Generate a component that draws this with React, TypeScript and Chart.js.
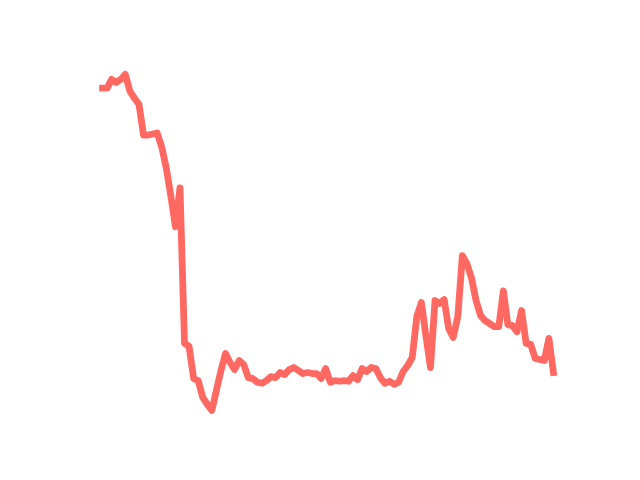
import React, { useEffect, useRef } from "react";
import { Chart, registerables } from "chart.js";

Chart.register(...registerables);

const seriesValues: number[] = [
  96.3, 96.3, 98.9, 98.0, 98.9, 100.4, 95.4, 93.3, 91.5, 82.3,
  82.3, 82.6, 82.9, 78.7, 72.4, 64.1, 54.9, 66.5, 20.1, 19.2,
  9.6, 9.0, 4.0, 1.9, 0.1, 6.1, 12.0, 17.1, 14.4, 12.3,
  15.0, 13.8, 9.9, 9.6, 8.5, 8.2, 9.0, 10.2, 9.9, 11.4,
  10.8, 12.3, 12.9, 12.0, 11.1, 11.4, 11.1, 11.1, 9.6, 12.6,
  8.5, 9.0, 8.8, 9.0, 8.8, 10.5, 9.3, 12.6, 11.7, 12.9,
  12.6, 9.9, 8.2, 8.8, 7.9, 8.5, 11.7, 13.5, 15.9, 28.1,
  32.3, 22.4, 12.9, 32.9, 32.0, 33.2, 24.5, 21.9, 28.1, 46.3,
  43.9, 39.7, 32.9, 28.4, 26.9, 26.0, 25.1, 25.1, 35.8, 25.7,
  25.4, 23.6, 29.9, 20.1, 19.8, 15.6, 15.3, 15.0, 21.6, 11.4,
];

const categories: number[] = seriesValues.map((_, i) => i);

export default function App() {
  const ref = useRef<HTMLCanvasElement | null>(null);

  useEffect(() => {
    document.body.style.margin = "0";
    const canvas = ref.current;
    if (!canvas) return;
    const xMin = categories[0];
    const xMax = categories[categories.length - 1];
    const xPad = (xMax - xMin) * 0.05;
    const yMinV = Math.min(...seriesValues);
    const yMaxV = Math.max(...seriesValues);
    const yPad = (yMaxV - yMinV) * 0.05;
    const chart = new Chart(canvas, {
      type: "line",
      data: {
        datasets: [
          {
            data: categories.map((c, i) => ({ x: c, y: seriesValues[i] })),
            borderColor: "#ff6961",
            borderWidth: 6.8,
            pointRadius: 0,
            tension: 0,
            fill: false,
            borderJoinStyle: "round",
            borderCapStyle: "square",
            clip: false as any,
          },
        ],
      },
      options: {
        animation: false,
        responsive: false,
        maintainAspectRatio: false,
        layout: { padding: { left: 80, right: 64, top: 57.6, bottom: 52.8 } },
        plugins: { legend: { display: false }, tooltip: { enabled: false } },
        scales: {
          x: { type: "linear", display: false, min: xMin - xPad, max: xMax + xPad },
          y: { type: "linear", display: false, min: yMinV - yPad, max: yMaxV + yPad },
        },
      },
    });
    return () => chart.destroy();
  }, []);

  return (
    <div style={{ position: "fixed", left: 0, top: 0, width: 640, height: 480, background: "#fff" }}>
      <canvas ref={ref} width={640} height={480} style={{ width: 640, height: 480 }} />
    </div>
  );
}
